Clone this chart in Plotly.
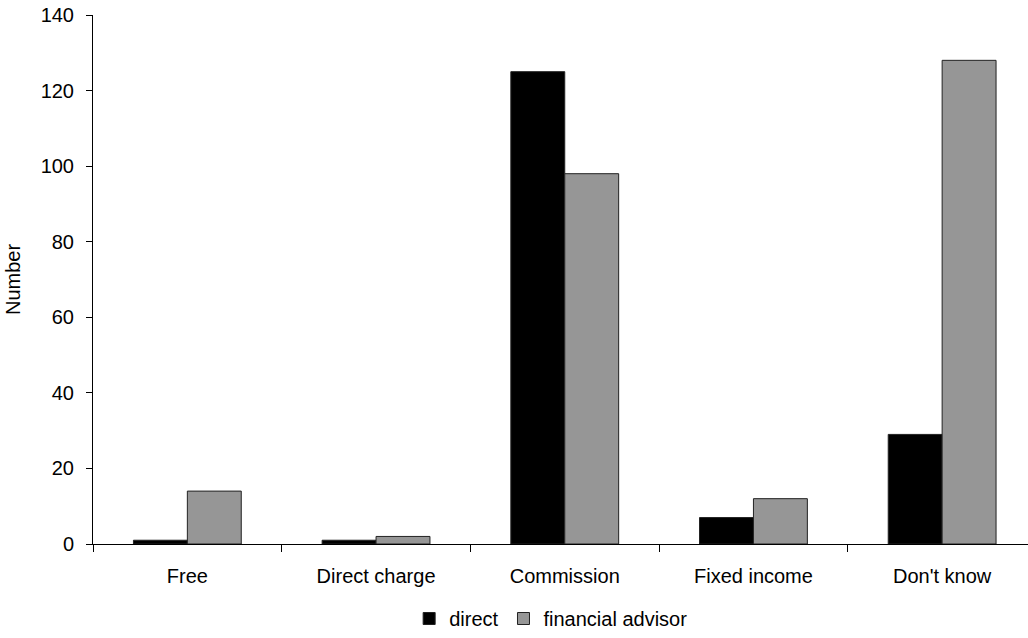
import plotly.graph_objects as go

categories = ["Free", "Direct charge", "Commission", "Fixed income", "Don't know"]
direct = [1, 1, 125, 7, 29]
financial_advisor = [14, 2, 98, 12, 128]
y_ticks = [0, 20, 40, 60, 80, 100, 120, 140]

FONT = "Liberation Sans, Arial, sans-serif"
W, H = 1028, 638
TOP, PLOT_BOTTOM = 15, 544

fig = go.Figure()
fig.add_trace(go.Bar(
    x=categories, y=direct, name="direct",
    marker=dict(color="#000000", line=dict(color="#222222", width=1)),
))
fig.add_trace(go.Bar(
    x=categories, y=financial_advisor, name="financial advisor",
    marker=dict(color="#969696", line=dict(color="#222222", width=1)),
))

paper_h = H - TOP
fig.update_layout(
    width=W, height=H,
    margin=dict(l=93, r=0, t=TOP, b=0),
    paper_bgcolor="white", plot_bgcolor="white",
    font=dict(family=FONT, size=20, color="#000000"),
    barmode="group", bargap=1.5 / 3.5, bargroupgap=0,
    showlegend=True,
    legend=dict(orientation="h", x=0.49, xanchor="center",
                y=0, yanchor="bottom",
                font=dict(size=20), itemwidth=30, traceorder="normal"),
    xaxis=dict(
        type="category", range=[-0.5, 4.455], automargin=False,
        showline=True, linecolor="#000000", linewidth=1,
        ticks="outside", tickson="boundaries", ticklen=7, tickcolor="#000000",
        ticklabelstandoff=14,
        showgrid=False, zeroline=False,
        tickfont=dict(size=20),
    ),
    yaxis=dict(
        domain=[(H - PLOT_BOTTOM) / paper_h, 1], automargin=False,
        range=[0, 140], tickvals=y_ticks,
        showline=True, linecolor="#000000", linewidth=1,
        ticks="outside", ticklen=6, tickcolor="#000000",
        ticklabelstandoff=8,
        showgrid=False, zeroline=False,
        tickfont=dict(size=20),
        title=dict(text="Number", font=dict(size=20), standoff=14),
    ),
)

fig.write_html("out.html")
